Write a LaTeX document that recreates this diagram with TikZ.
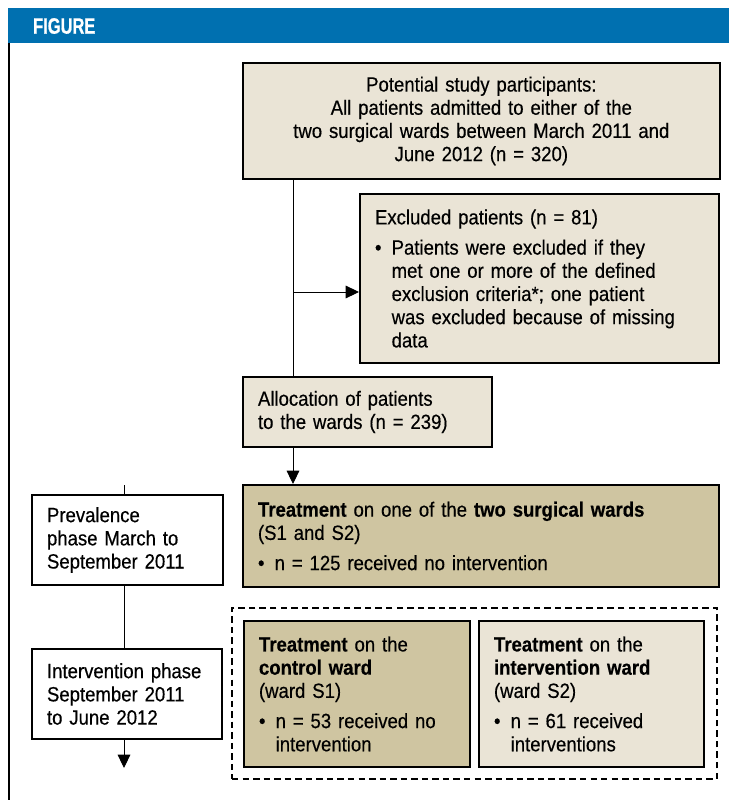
\documentclass[tikz,border=0pt]{standalone}
\usepackage{fontspec}
\setmainfont[FakeStretch=0.9, FakeBold=0.4]{Liberation Sans}
\newfontfamily\headfont[FakeStretch=0.74, FakeBold=0.8]{Liberation Sans}
\usetikzlibrary{arrows.meta,calc}
\definecolor{figblue}{HTML}{0070B0}
\definecolor{sandlight}{HTML}{EAE4D6}
\definecolor{sanddark}{HTML}{CFC5A1}
\newcommand{\fs}{\fontsize{17.6}{19.8}\selectfont}
\newcommand{\bul}{\makebox[0.5cm][l]{\textbullet}}
\newcommand{\ind}{\hspace*{0.5cm}}

\begin{document}
\begin{tikzpicture}[x=0.03cm, y=-0.03cm, >={Triangle[length=0.4cm,width=0.38cm]}, font=\fs,
	box/.style={draw, line width=1.7pt, anchor=north west, inner sep=0pt, inner xsep=0.45cm},
	light/.style={box, fill=sandlight},
	dark/.style={box, fill=sanddark},
	phase/.style={box, fill=white, align=left},
	link/.style={line width=0.8pt}]
		\useasboundingbox (0,0) rectangle (729,800);
		\fill[figblue] (8,8) rectangle (729,43);
		\node[anchor=west, text=white, font=\headfont\bfseries\fontsize{19}{19}\selectfont] (title) at (29,26) {FIGURE};
		\draw[line width=1.7pt] (9,43) -- (9,800);
		\node[light, minimum width=14.28cm, minimum height=3.48cm, text width=13.4cm, align=center] (pool) at (242,62)
			{Potential study participants:\\ All patients admitted to either of the\\ two surgical wards between March 2011 and\\ June 2012 (n = 320)};
		\node[light, minimum width=10.77cm, minimum height=5.07cm, text width=9.87cm, align=left] (excl) at (359,193)
			{Excluded patients (n = 81)\\[6pt] \bul Patients were excluded if they\\ \ind met one or more of the defined\\ \ind exclusion criteria*; one patient\\ \ind was excluded because of missing\\ \ind data};
		\node[light, minimum width=7.47cm, minimum height=2.1cm, text width=6.57cm, align=left] (alloc) at (242,376)
			{Allocation of patients\\ to the wards (n = 239)};
		\node[dark, minimum width=14.28cm, minimum height=3.06cm, text width=13.38cm, align=left] (treat) at (242,484)
			{\textbf{Treatment} on one of the \textbf{two surgical wards}\\ (S1 and S2)\\[6pt] \bul n = 125 received no intervention};
		\node[phase, minimum width=5.73cm, minimum height=2.7cm, text width=4.83cm] (prev) at (31,494)
			{Prevalence\\ phase March to\\ September 2011};
		\node[phase, minimum width=5.7cm, minimum height=2.7cm, text width=4.8cm] (inter) at (31,648)
			{Intervention phase\\ September 2011\\ to June 2012};
		\node[draw, dashed, dash pattern=on 5.5pt off 3.5pt, line width=1.7pt, anchor=north west, minimum width=14.55cm, minimum height=5.13cm] (group) at (231,607) {};
		\node[dark, minimum width=6.78cm, minimum height=4.38cm, text width=5.88cm, align=left] (ctrl) at (243,620)
			{\textbf{Treatment} on the\\ \textbf{control ward}\\ (ward S1)\\[6pt] \bul n = 53 received no\\ \ind intervention};
		\node[light, minimum width=6.75cm, minimum height=4.38cm, text width=5.85cm, align=left] (iward) at (478,620)
			{\textbf{Treatment} on the\\ \textbf{intervention ward}\\ (ward S2)\\[6pt] \bul n = 61 received\\ \ind interventions};
		\coordinate (trunk) at (293,292);
		\draw[link] (trunk |- pool.south) -- (trunk |- alloc.north);
		\draw[link,->] (trunk) -- (trunk -| excl.west);
		\draw[link,->] (trunk |- alloc.south) -- (trunk |- treat.north);
		\coordinate (phtop) at (124,485);
		\coordinate (phend) at (124,768);
		\draw[link] (phtop) -- (phtop |- prev.north);
		\draw[link] (phtop |- prev.south) -- (phtop |- inter.north);
		\draw[link,->] (phtop |- inter.south) -- (phend);
	\end{tikzpicture}
\end{document}
